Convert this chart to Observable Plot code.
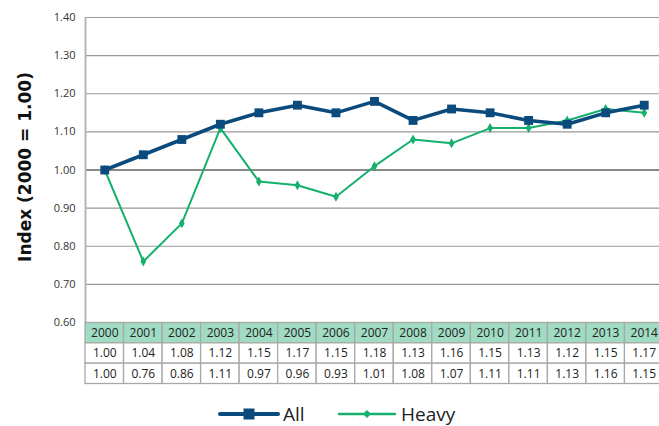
<!DOCTYPE html>
<html><head><meta charset="utf-8">
<script src="https://cdn.jsdelivr.net/npm/d3@7"></script>
<script src="https://cdn.jsdelivr.net/npm/@observablehq/plot@0.6"></script>
<style>
body{margin:0;background:#fff;font-family:"Open Sans",Lato,sans-serif;}
#wrap{position:relative;width:659px;height:426px;overflow:hidden;}
#chart{position:absolute;left:0;top:0;}
#table{position:absolute;left:0;top:322px;}
#legend{position:absolute;left:0;top:400px;width:659px;height:26px;}
</style></head>
<body><div id="wrap"><div id="chart"></div><div id="table"></div><div id="legend"></div></div>
<script>
const years = ["2000","2001","2002","2003","2004","2005","2006","2007","2008","2009","2010","2011","2012","2013","2014"];
const allValues = [1.00,1.04,1.08,1.12,1.15,1.17,1.15,1.18,1.13,1.16,1.15,1.13,1.12,1.15,1.17];
const heavyValues = [1.00,0.76,0.86,1.11,0.97,0.96,0.93,1.01,1.08,1.07,1.11,1.11,1.13,1.16,1.15];
const yTicks = [0.6,0.7,0.8,0.9,1.0,1.1,1.2,1.3,1.4];
const seriesNames = ["All","Heavy"];
const colors = {All:"#0a4a7c", Heavy:"#14b06c"};

const allData = years.map((y,i)=>({year:y, value:allValues[i], series:"All"}));
const heavyData = years.map((y,i)=>({year:y, value:heavyValues[i], series:"Heavy"}));

const xOpts = {type:"band", domain:years, range:[85,663], padding:0, round:false, axis:null};

const chart = Plot.plot({
  width:659, height:322, marginTop:17, marginBottom:0, marginLeft:85, marginRight:0,
  x:xOpts,
  y:{domain:[0.6,1.4], range:[322,17], ticks:yTicks, tickFormat:d=>d.toFixed(2), tickSize:0, tickPadding:10, label:null},
  style:{fontFamily:"Open Sans, Lato, sans-serif", fontSize:"11px", color:"#333", overflow:"visible"},
  marks:[
    Plot.ruleY(yTicks.filter(d=>d!==1.0), {stroke:"#999", strokeWidth:1.2, strokeOpacity:1}),
    Plot.ruleY([1.0], {stroke:"#888", strokeWidth:2.2}),
    Plot.ruleX([0], {x:()=>years[0], stroke:"#b5b5b5", strokeWidth:2, dx:-19.27, y1:0.6, y2:1.4}),
    Plot.line(heavyData, {x:"year", y:"value", stroke:colors.Heavy, strokeWidth:2}),
    Plot.dot(heavyData, {x:"year", y:"value", symbol:"diamond", r:3, fill:colors.Heavy}),
    Plot.line(allData, {x:"year", y:"value", stroke:colors.All, strokeWidth:3.5}),
    Plot.dot(allData, {x:"year", y:"value", symbol:"square", r:5, fill:colors.All}),
    Plot.axisY({ticks:yTicks, tickFormat:d=>d.toFixed(2), tickSize:0, tickPadding:10, fontSize:11, fill:"#333", label:null})
  ]
});
document.getElementById("chart").appendChild(chart);

// Y title
const svg = d3.select(chart);
svg.append("text").attr("transform","translate(31,167) rotate(-90)").attr("text-anchor","middle")
  .attr("font-family","DejaVu Sans, sans-serif").attr("font-weight","bold").attr("font-size","17px").attr("fill","#111")
  .text("Index (2000 = 1.00)");

// Table
const rows = ["Year","All","Heavy"];
const cells = [];
years.forEach((y,i)=>{
  cells.push({year:y,row:"Year",label:y});
  cells.push({year:y,row:"All",label:allValues[i].toFixed(2)});
  cells.push({year:y,row:"Heavy",label:heavyValues[i].toFixed(2)});
});
const table = Plot.plot({
  width:659, height:62, marginTop:0, marginBottom:0, marginLeft:85, marginRight:0,
  x:xOpts,
  y:{type:"band", domain:rows, range:[0.5,61.5], padding:0, round:false, axis:null},
  style:{fontFamily:"Open Sans, Lato, sans-serif", overflow:"visible"},
  marks:[
    Plot.cell(cells, {x:"year", y:"row", fill:d=>d.row==="Year"?"#a0dcc3":"#ffffff", stroke:"#a8a8a8", strokeWidth:1.3, inset:0}),
    Plot.text(cells, {x:"year", y:"row", text:"label", fontSize:12, fill:"#222"})
  ]
});
document.getElementById("table").appendChild(table);

// Legend
const leg = d3.select("#legend").append("svg").attr("width",659).attr("height",26);
const items = [{name:seriesNames[0], x1:220, x2:278, tx:283},{name:seriesNames[1], x1:339, x2:395, tx:401}];
items.forEach(it=>{
  const c = colors[it.name];
  leg.append("line").attr("x1",it.x1).attr("x2",it.x2).attr("y1",14).attr("y2",14).attr("stroke",c)
    .attr("stroke-width", it.name==="All"?4:2.5).attr("stroke-linecap","round");
  const mx=(it.x1+it.x2)/2;
  if(it.name==="All") leg.append("rect").attr("x",mx-5.5).attr("y",8.5).attr("width",11).attr("height",11).attr("fill",c);
  else leg.append("path").attr("d",`M${mx},${10} L${mx+4},${14} L${mx},${18} L${mx-4},${14}Z`).attr("fill",c);
  leg.append("text").attr("x",it.tx).attr("y",20.5).attr("font-family","Open Sans, sans-serif").attr("font-size","19px").attr("fill","#222").text(it.name);
});
</script></body></html>
